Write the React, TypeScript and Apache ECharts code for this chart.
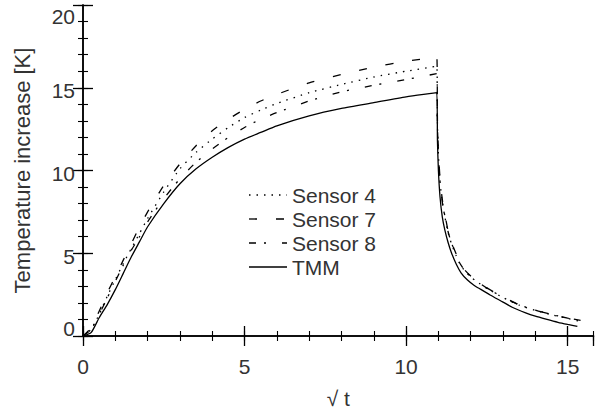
import React, { useEffect, useRef } from "react";
import * as echarts from "echarts";

// sqrt(t) positions during heating (shared by all curves)
const heatX = [0, 0.25, 0.5, 0.75, 1.0, 1.25, 1.5, 1.75, 2.0, 2.5, 3.0, 3.5, 4.0, 4.5, 5.0, 5.5, 6.0, 7.0, 8.0, 9.0, 10.0, 10.95];
const tmmHeat = [0, 0.2, 1.1, 1.9, 2.8, 3.8, 4.8, 5.7, 6.6, 8.0, 9.2, 10.1, 10.8, 11.4, 11.9, 12.3, 12.7, 13.3, 13.75, 14.1, 14.45, 14.7];
const s4Heat = [0, 0.4, 1.3, 2.4, 3.4, 4.4, 5.3, 6.2, 7.1, 8.7, 10.1, 11.1, 11.9, 12.6, 13.2, 13.65, 14.05, 14.7, 15.2, 15.65, 16.0, 16.3];
const s7Heat = [0, 0.5, 1.5, 2.6, 3.6, 4.6, 5.6, 6.6, 7.5, 9.1, 10.4, 11.5, 12.4, 13.1, 13.7, 14.2, 14.6, 15.3, 15.8, 16.25, 16.6, 16.85];
const s8Heat = [0, 0.4, 1.3, 2.3, 3.3, 4.3, 5.2, 6.0, 6.9, 8.3, 9.5, 10.5, 11.3, 12.0, 12.6, 13.1, 13.5, 14.2, 14.75, 15.15, 15.5, 15.85];

// sqrt(t) positions during cooling
const coolXTmm = [10.97, 11.0, 11.05, 11.12, 11.2, 11.3, 11.4, 11.55, 11.7, 11.9, 12.1, 12.3, 12.6, 13.0, 13.3, 13.7, 14.0, 14.33, 14.7, 15.0, 15.3];
const tmmCool = [11.8, 10.0, 8.4, 7.2, 6.4, 5.65, 5.05, 4.35, 3.82, 3.38, 3.07, 2.83, 2.48, 2.05, 1.72, 1.4, 1.2, 1.02, 0.83, 0.7, 0.58];
const coolXSensor = [10.97, 11.0, 11.05, 11.12, 11.2, 11.3, 11.4, 11.55, 11.65, 11.8, 12.0, 12.2, 12.5, 13.0, 13.5, 14.0, 14.5, 15.0, 15.4];
const s4Cool = [12.8, 11.0, 9.3, 8.1, 7.2, 6.25, 5.6, 4.85, 4.42, 3.98, 3.57, 3.27, 2.87, 2.32, 1.86, 1.55, 1.28, 1.06, 0.88];
const s7Cool = [13.0, 11.2, 9.5, 8.25, 7.35, 6.35, 5.7, 4.95, 4.48, 4.02, 3.62, 3.31, 2.91, 2.36, 1.89, 1.57, 1.3, 1.08, 0.92];
const s8Cool = [12.7, 11.0, 9.3, 8.1, 7.25, 6.3, 5.65, 4.9, 4.44, 4.0, 3.59, 3.29, 2.89, 2.34, 1.88, 1.57, 1.3, 1.09, 0.94];

const xTicks = [0, 5, 10, 15];
const yTicks = [0, 5, 10, 15, 20];
const legendNames = ["Sensor 4", "Sensor 7", "Sensor 8", "TMM"];

const FONT = "'Liberation Sans', Arial, Helvetica, sans-serif";
const TXT = "#333";
const FS = 21;

function build(xh: number[], yh: number[], xc: number[], yc: number[]) {
  const out: number[][] = [];
  xh.forEach((x, i) => out.push([x, yh[i]]));
  xc.forEach((x, i) => out.push([x, yc[i]]));
  return out;
}

const dashes: Record<string, any> = {
  "Sensor 4": [1.5, 6],
  "Sensor 7": [8, 19],
  "Sensor 8": [7, 8, 2, 16],
  TMM: "solid",
};

export default function App() {
  const ref = useRef<HTMLDivElement>(null);
  useEffect(() => {
    const chart = echarts.init(ref.current!, null, { renderer: "svg" });
    const axisLine = { show: true, lineStyle: { color: "#000", width: 1.5 } };
    const major = (pos: string, labels: boolean, isX: boolean) => ({
      type: "value",
      position: pos,
      min: 0,
      max: isX ? 15.8 : 20,
      interval: 5,
      axisLine,
      axisTick: { show: true, inside: true, length: 10, lineStyle: { color: "#000", width: 1.3 } },
      splitLine: { show: false },
      axisLabel: labels
        ? isX
          ? {
              show: true,
              showMaxLabel: false,
              margin: 20,
              fontSize: FS,
              fontFamily: FONT,
              color: TXT,
              formatter: (v: number) => (xTicks.includes(v) ? String(v) : ""),
            }
          : {
              show: true,
              margin: 8,
              fontSize: FS,
              fontFamily: FONT,
              color: TXT,
              formatter: (v: number) =>
                !yTicks.includes(v) ? "" : v === 0 ? "{b|0}" : v === 20 ? "{t|20}" : "{m|" + v + "}",
              rich: {
                b: { fontSize: FS, fontFamily: FONT, color: TXT, padding: [0, 0, 16, 0] },
                t: { fontSize: FS, fontFamily: FONT, color: TXT, padding: [22, 0, 0, 0] },
                m: { fontSize: FS, fontFamily: FONT, color: TXT, padding: [6, 0, 0, 0] },
              },
            }
        : { show: false },
    });
    const minor = (pos: string, isX: boolean) => ({
      type: "value",
      position: pos,
      min: 0,
      max: isX ? 15.8 : 20,
      interval: 1,
      axisLine: { show: false },
      axisTick: { show: true, inside: true, length: 5, lineStyle: { color: "#000", width: 1.1 } },
      splitLine: { show: false },
      axisLabel: { show: false },
    });
    const xMain: any = major("bottom", true, true);
    xMain.name = "√ t";
    xMain.nameLocation = "middle";
    xMain.nameGap = 52;
    xMain.nameTextStyle = { fontSize: FS, fontFamily: FONT, color: TXT };
    const yMain: any = major("left", true, false);
    yMain.name = "Temperature increase [K]";
    yMain.nameLocation = "middle";
    yMain.nameGap = 50;
    yMain.nameTextStyle = { fontSize: 22, fontFamily: FONT, color: TXT };

    const seriesDefs = [
      { name: "Sensor 4", data: build(heatX, s4Heat, coolXSensor, s4Cool) },
      { name: "Sensor 7", data: build(heatX, s7Heat, coolXSensor, s7Cool) },
      { name: "Sensor 8", data: build(heatX, s8Heat, coolXSensor, s8Cool) },
      { name: "TMM", data: build(heatX, tmmHeat, coolXTmm, tmmCool) },
    ];

    const legendGraphics: any[] = [];
    legendNames.forEach((n, i) => {
      const y = 195 + i * 24;
      legendGraphics.push({
        type: "line",
        shape: { x1: 249, y1: y, x2: 287, y2: y },
        style: { stroke: "#000", lineWidth: 1.3, lineDash: dashes[n] === "solid" ? null : dashes[n] },
      });
      legendGraphics.push({
        type: "text",
        x: 292,
        y,
        style: { text: n, fontSize: FS, fontFamily: FONT, fill: TXT, verticalAlign: "middle", align: "left" },
      });
    });

    chart.setOption({
      animation: false,
      grid: { left: 83, right: 1.5, top: 5, bottom: 78, containLabel: false },
      xAxis: [xMain, minor("bottom", true), major("top", false, true), minor("top", true)],
      yAxis: [yMain, minor("left", false), major("right", false, false), minor("right", false)],
      series: seriesDefs.map((s) => ({
        type: "line",
        name: s.name,
        xAxisIndex: 0,
        yAxisIndex: 0,
        data: s.data,
        showSymbol: false,
        symbol: "none",
        smooth: 0.2,
        lineStyle: { color: "#000", width: 1.3, type: dashes[s.name] },
      })),
      graphic: legendGraphics,
    });
    return () => chart.dispose();
  }, []);
  return (
    <div
      ref={ref}
      style={{ width: 595, height: 414, position: "absolute", left: 0, top: 0, background: "#fff" }}
    />
  );
}
